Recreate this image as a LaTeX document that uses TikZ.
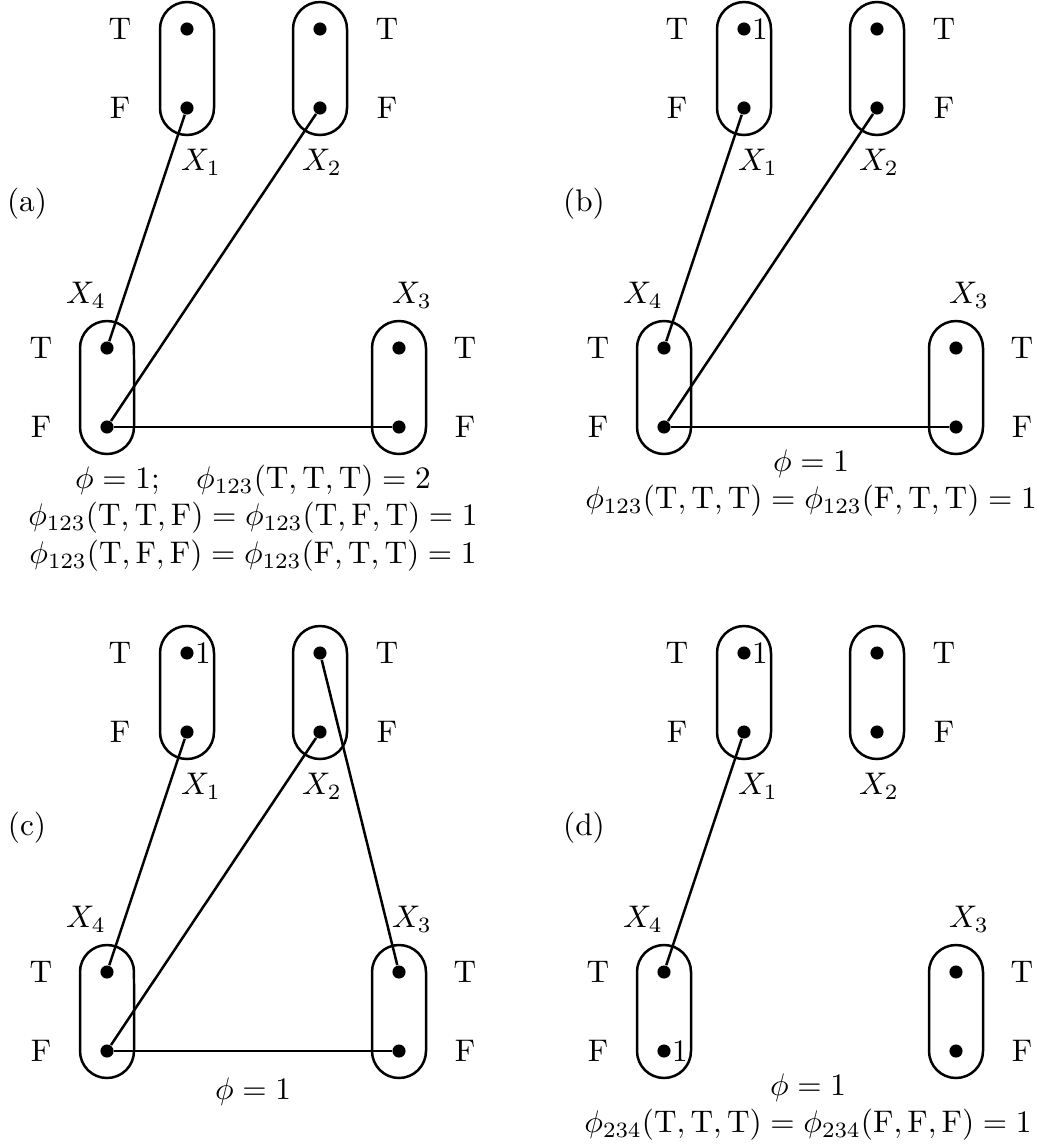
\documentclass[tikz,border=0pt]{standalone}
\usetikzlibrary{calc}
\tikzset{
  dotnode/.style={circle,fill=black,inner sep=0pt,minimum size=4.2pt},
  link/.style={line width=0.8pt},
  capsule/.style={line width=0.8pt},
  lbl/.style={inner sep=0pt},
  one/.style={inner sep=0pt}
}
\newcommand\mycap[2]{%
  \draw[capsule] ($(#1)+(-27,0)$) arc[start angle=180,end angle=0,radius=8.64pt]
    -- ($(#2)+(27,0)$) arc[start angle=0,end angle=-180,radius=8.64pt] -- cycle;}
\newcommand\mypanel[4]{% #1 x shift, #2 y shift, #3 prefix, #4 panel letter
  \begin{scope}[shift={(#1,-#2)}]
    \node[dotnode] (#3-1T) at (187,-29) {};
    \node[dotnode] (#3-1F) at (187,-108) {};
    \node[dotnode] (#3-2T) at (320,-29) {};
    \node[dotnode] (#3-2F) at (320,-108) {};
    \node[dotnode] (#3-4T) at (107,-348) {};
    \node[dotnode] (#3-4F) at (107,-427) {};
    \node[dotnode] (#3-3T) at (399,-348) {};
    \node[dotnode] (#3-3F) at (399,-427) {};
    \mycap{#3-1T}{#3-1F}
    \mycap{#3-2T}{#3-2F}
    \mycap{#3-4T}{#3-4F}
    \mycap{#3-3T}{#3-3F}
    \node[lbl] (#3-l1T) at (120,-29) {T};
    \node[lbl] (#3-l1F) at (120,-108) {F};
    \node[lbl] (#3-l2T) at (387,-29) {T};
    \node[lbl] (#3-l2F) at (387,-108) {F};
    \node[lbl] (#3-l4T) at (41,-348) {T};
    \node[lbl] (#3-l4F) at (41,-427) {F};
    \node[lbl] (#3-l3T) at (465,-348) {T};
    \node[lbl] (#3-l3F) at (465,-427) {F};
    \node[lbl] (#3-x1) at (201,-162) {$X_1$};
    \node[lbl] (#3-x2) at (322,-162) {$X_2$};
    \node[lbl] (#3-x4) at (86,-295) {$X_4$};
    \node[lbl] (#3-x3) at (412,-295) {$X_3$};
    \node[lbl] (#3-tag) at (27,-204) {(#4)};
  \end{scope}}
\begin{document}
\begin{tikzpicture}[x=0.32pt,y=0.32pt]
  \useasboundingbox (0,0) rectangle (1037,-1146);
  % panel (a)
  \mypanel{0}{0}{a}{a}
  \draw[link] (a-1F) -- (a-4T);
  \draw[link] (a-2F) -- (a-4F);
  \draw[link] (a-4F) -- (a-3F);
  \node[align=center,inner sep=0pt] (a-cap) at (253,-518)
    {$\phi=1;\quad\phi_{123}(\mathrm{T},\mathrm{T},\mathrm{T})=2$\\
     $\phi_{123}(\mathrm{T},\mathrm{T},\mathrm{F})=\phi_{123}(\mathrm{T},\mathrm{F},\mathrm{T})=1$\\
     $\phi_{123}(\mathrm{T},\mathrm{F},\mathrm{F})=\phi_{123}(\mathrm{F},\mathrm{T},\mathrm{T})=1$};
  % panel (b)
  \mypanel{557}{0}{b}{b}
  \node[one] (b-one1) at (760,-29) {1};
  \draw[link] (b-1F) -- (b-4T);
  \draw[link] (b-2F) -- (b-4F);
  \draw[link] (b-4F) -- (b-3F);
  \node[align=center,inner sep=0pt] (b-cap) at (811,-483)
    {$\phi=1$\\
     $\phi_{123}(\mathrm{T},\mathrm{T},\mathrm{T})=\phi_{123}(\mathrm{F},\mathrm{T},\mathrm{T})=1$};
  % panel (c)
  \mypanel{0}{624}{c}{c}
  \node[one] (c-one1) at (203,-653) {1};
  \draw[link] (c-1F) -- (c-4T);
  \draw[link] (c-2F) -- (c-4F);
  \draw[link] (c-4F) -- (c-3F);
  \draw[link] (c-2T) -- (c-3T);
  \node[inner sep=0pt] (c-cap) at (253,-1092) {$\phi=1$};
  % panel (d)
  \mypanel{557}{624}{d}{d}
  \node[one] (d-one1) at (760,-653) {1};
  \node[one] (d-one4) at (680,-1051) {1};
  \draw[link] (d-1F) -- (d-4T);
  \node[align=center,inner sep=0pt] (d-cap) at (808,-1107)
    {$\phi=1$\\
     $\phi_{234}(\mathrm{T},\mathrm{T},\mathrm{T})=\phi_{234}(\mathrm{F},\mathrm{F},\mathrm{F})=1$};
\end{tikzpicture}
\end{document}
